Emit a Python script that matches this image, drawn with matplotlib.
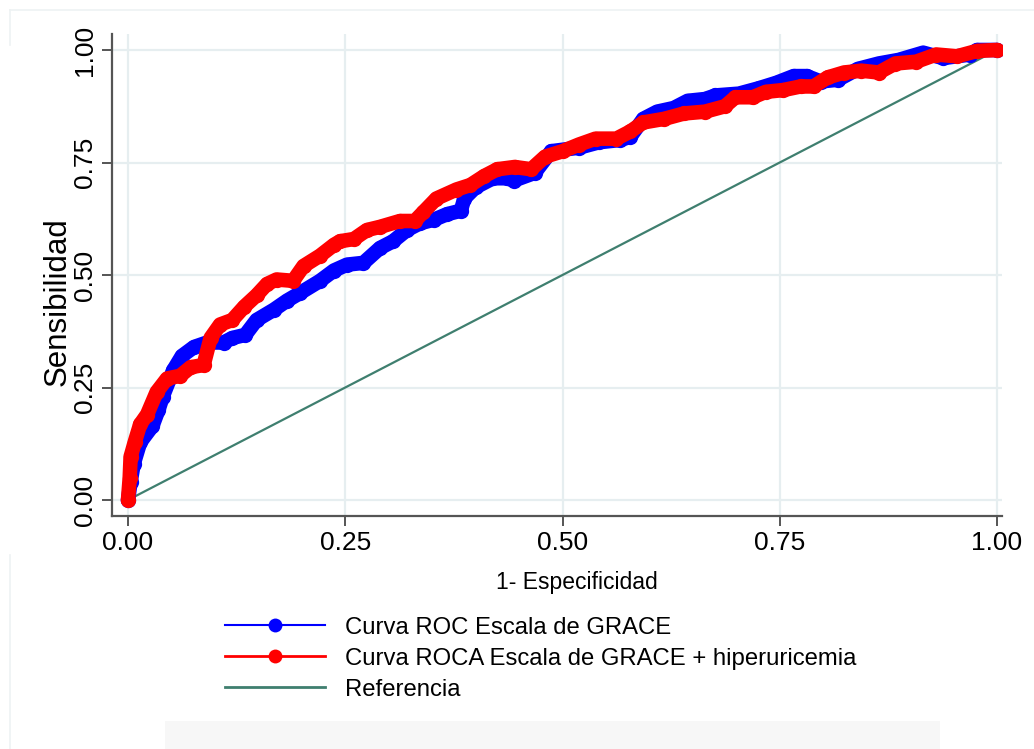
import matplotlib
matplotlib.use("Agg")
import matplotlib.pyplot as plt
from matplotlib.lines import Line2D
from matplotlib.patches import Rectangle

# ---- data ----
grace_x = [0.0, 0.003, 0.0065, 0.014, 0.028, 0.035, 0.04, 0.052, 0.062, 0.076, 0.091,
           0.11, 0.12, 0.135, 0.148, 0.168, 0.183, 0.198, 0.221, 0.237, 0.252, 0.271,
           0.29, 0.305, 0.321, 0.336, 0.352, 0.367, 0.383, 0.387, 0.40, 0.42, 0.436,
           0.444, 0.468, 0.487, 0.519, 0.542, 0.566, 0.578, 0.593, 0.609, 0.628,
           0.644, 0.664, 0.676, 0.703, 0.726, 0.746, 0.766, 0.781, 0.797, 0.817,
           0.84, 0.864, 0.887, 0.915, 0.938, 0.969, 0.977, 1.0]
grace_y = [0.0, 0.04, 0.08, 0.128, 0.164, 0.20, 0.23, 0.288, 0.32, 0.34, 0.35,
           0.35, 0.36, 0.367, 0.40, 0.423, 0.443, 0.46, 0.487, 0.51, 0.523, 0.527,
           0.56, 0.575, 0.60, 0.615, 0.623, 0.635, 0.643, 0.67, 0.695, 0.715, 0.715,
           0.71, 0.727, 0.775, 0.783, 0.795, 0.80, 0.807, 0.847, 0.863, 0.871,
           0.887, 0.891, 0.899, 0.903, 0.915, 0.927, 0.942, 0.942, 0.93, 0.934,
           0.958, 0.97, 0.978, 0.994, 0.982, 0.99, 1.0, 1.0]

uric_x = [0.0, 0.002, 0.003, 0.008, 0.014, 0.022, 0.033, 0.045, 0.06, 0.072, 0.087,
          0.095, 0.106, 0.12, 0.134, 0.148, 0.16, 0.171, 0.19, 0.202, 0.221, 0.237,
          0.244, 0.26, 0.275, 0.29, 0.313, 0.33, 0.34, 0.355, 0.378, 0.394, 0.41,
          0.425, 0.445, 0.464, 0.48, 0.5, 0.519, 0.538, 0.562, 0.578, 0.593, 0.617,
          0.64, 0.664, 0.687, 0.699, 0.719, 0.734, 0.754, 0.774, 0.789, 0.805, 0.824,
          0.844, 0.864, 0.883, 0.907, 0.93, 0.954, 0.977, 1.0]
uric_y = [0.0, 0.05, 0.096, 0.13, 0.168, 0.19, 0.24, 0.27, 0.276, 0.295, 0.30,
          0.36, 0.39, 0.40, 0.43, 0.455, 0.48, 0.49, 0.487, 0.52, 0.543, 0.567,
          0.575, 0.58, 0.60, 0.607, 0.62, 0.62, 0.64, 0.67, 0.69, 0.70, 0.72,
          0.735, 0.74, 0.735, 0.763, 0.775, 0.79, 0.803, 0.803, 0.819, 0.839, 0.847,
          0.859, 0.863, 0.875, 0.895, 0.895, 0.907, 0.911, 0.919, 0.919, 0.939, 0.95,
          0.954, 0.95, 0.97, 0.974, 0.99, 0.986, 0.998, 1.0]

ref_x = [0.0, 1.0]
ref_y = [0.0, 1.0]

ticks = [0.0, 0.25, 0.50, 0.75, 1.0]
tick_labels = ["0.00", "0.25", "0.50", "0.75", "1.00"]
labels = ["Curva ROC Escala de GRACE",
          "Curva ROCA Escala de GRACE + hiperuricemia",
          "Referencia"]

BLUE = "#0000ff"
RED = "#ff0000"
GREEN = "#3f7f6f"
GRID = "#e6eef0"
FONT = ["Liberation Sans", "DejaVu Sans"]

W, H = 1034, 749
fig = plt.figure(figsize=(W / 100, H / 100), dpi=100)
fig.patch.set_facecolor("white")

# faint outer frame and bottom artefact
fig.add_artist(Line2D([10 / W, 1.0], [1 - 10 / H, 1 - 10 / H], color="#eef2f3", lw=1.2))
fig.add_artist(Line2D([10 / W, 10 / W], [1 - 10 / H, 1 - 45 / H], color="#eef2f3", lw=1.2))
fig.add_artist(Line2D([10 / W, 10 / W], [1 - 555 / H, 0.0], color="#eef2f3", lw=1.2))
fig.add_artist(Rectangle((165 / W, 0), (940 - 165) / W, 28 / H, transform=fig.transFigure,
                         facecolor="#f7f7f7", edgecolor="none"))

ax = fig.add_axes([112 / W, 1 - 516 / H, (1002 - 112) / W, (516 - 34) / H])
ax.set_xlim(-16 / 869, 1 + 5 / 869)
ax.set_ylim(-16 / 450, 1 + 16 / 450)

ax.grid(True, color=GRID, lw=1.6)
ax.set_axisbelow(True)
for s in ["top", "right"]:
    ax.spines[s].set_visible(False)
for s in ["left", "bottom"]:
    ax.spines[s].set_color("#555555")
    ax.spines[s].set_linewidth(1.6)

ax.plot(ref_x, ref_y, color=GREEN, lw=1.6, zorder=2)
ax.plot(grace_x, grace_y, color=BLUE, lw=10.5, solid_capstyle="round",
        solid_joinstyle="round", marker="o", ms=11, mec="none", zorder=3)
ax.plot(uric_x, uric_y, color=RED, lw=10.5, solid_capstyle="round",
        solid_joinstyle="round", marker="o", ms=11, mec="none", zorder=4)

ax.set_xticks(ticks)
ax.set_xticklabels(tick_labels, fontsize=19, family=FONT)
ax.set_yticks(ticks)
ax.set_yticklabels(tick_labels, fontsize=19, family=FONT, rotation=90, va="center")
ax.tick_params(axis="both", length=7, width=1.4, color="#555555", pad=4)

ax.set_ylabel("Sensibilidad", fontsize=22.5, family=FONT)
ax.yaxis.set_label_coords(-39 / 890, (516 - 302) / 482)

fig.text(577 / W, 1 - 582 / H, "1- Especificidad", fontsize=16.5,
         family=FONT, ha="center", va="center")

handles = [
    Line2D([], [], color=BLUE, lw=1.5, marker="o", ms=10, mec="none"),
    Line2D([], [], color=RED, lw=2.0, marker="o", ms=10, mec="none"),
    Line2D([], [], color=GREEN, lw=2.0),
]
leg = fig.legend(handles, labels, loc="upper left", bbox_to_anchor=(203 / W, 1 - 595 / H),
                 frameon=False, handlelength=4.2, handletextpad=0.85, labelspacing=0.38,
                 prop={"family": FONT, "size": 17.2})

fig.savefig("out.png", dpi=100)
